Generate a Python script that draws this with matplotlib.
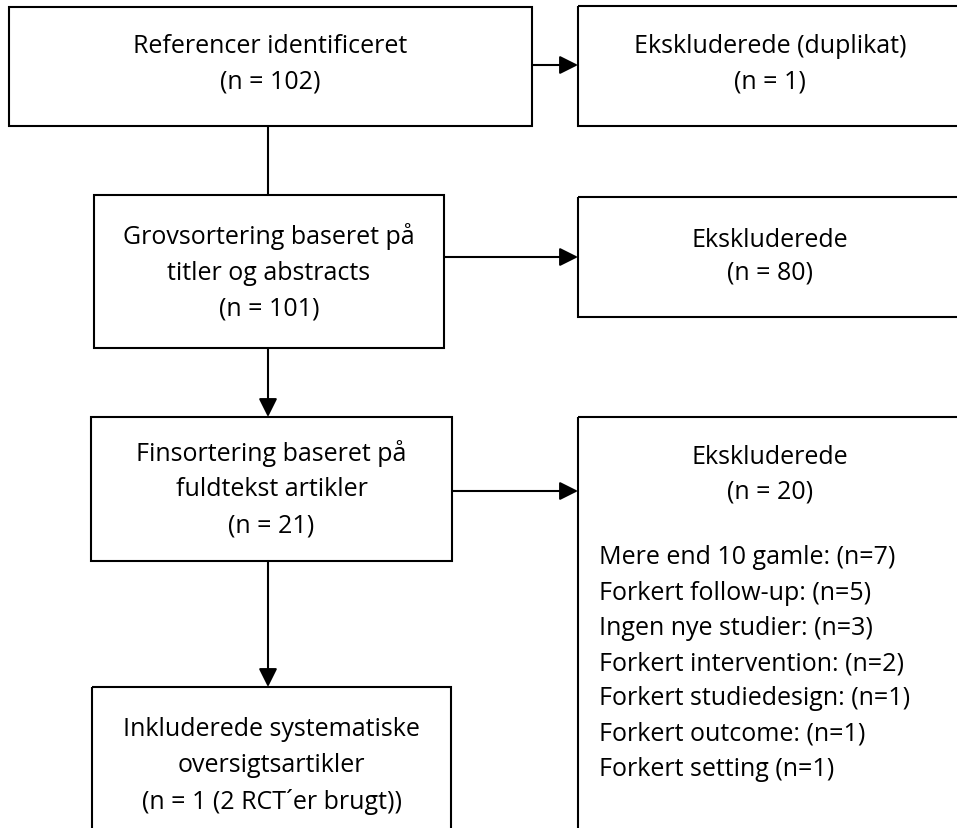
#Flowchart over litteratursøgning (systematiske oversigtsartikler)
import matplotlib.pyplot as plt
from matplotlib.patches import Rectangle, FancyArrowPatch

#Data for flowchartet
trin = [
    "Referencer identificeret",
    "Grovsortering baseret på\ntitler og abstracts",
    "Finsortering baseret på\nfuldtekst artikler",
    "Inkluderede systematiske\noversigtsartikler",
]
trin_n = ["102", "101", "21", "1 (2 RCT´er brugt)"]

eksklusion = ["Ekskluderede (duplikat)", "Ekskluderede", "Ekskluderede"]
eksklusion_n = [1, 80, 20]

aarsager = [
    "Mere end 10 gamle:",
    "Forkert follow-up:",
    "Ingen nye studier:",
    "Forkert intervention:",
    "Forkert studiedesign:",
    "Forkert outcome:",
    "Forkert setting",
]
aarsager_n = [7, 5, 3, 2, 1, 1, 1]

plt.rcParams["font.family"] = ["Open Sans", "DejaVu Sans"]
fs = 18
lw = 1.5

fig = plt.figure(figsize=(9.57, 8.29), dpi=100)
ax = fig.add_axes([0, 0, 1, 1])
ax.set_xlim(0, 957)
ax.set_ylim(829, 0)
ax.axis("off")

#bokse i venstre kolonne: (x0, y0, x1, y1) i pixel
venstre = [(9, 8, 532, 127), (94, 196, 444, 349), (91, 418, 452, 562), (92, 688, 451, 900)]
#midten af teksten i hver boks
venstre_y = [64, 272, 489, 766]
#bokse i hoejre kolonne (skaaret af ved billedkanten)
hoejre = [(578, 7, 962, 127), (578, 198, 962, 318), (578, 418, 962, 900)]

def boks(x0, y0, x1, y1):
    r = Rectangle((x0, y0), x1 - x0, y1 - y0, fill=False, edgecolor="black", linewidth=lw)
    ax.add_patch(r)
    return r

for i, (x0, y0, x1, y1) in enumerate(venstre):
    boks(x0, y0, x1, y1)
    tekst = trin[i] + f"\n(n = {trin_n[i]})"
    t = ax.text((x0 + x1) / 2, venstre_y[i], tekst, ha="center", va="center",
                fontsize=fs, linespacing=1.56)
    if i == 3:
        clip = Rectangle((x0, y0), x1 - x0, 813 - y0, transform=ax.transData)
        t.set_clip_path(clip)

tekst_y = [(46, 82), (240, 273), (457, 492)]
for i, (x0, y0, x1, y1) in enumerate(hoejre):
    boks(x0, y0, x1, y1)
    xc = (x0 + x1) / 2
    ax.text(xc, tekst_y[i][0], eksklusion[i], ha="center", va="center", fontsize=fs)
    ax.text(xc, tekst_y[i][1], f"(n = {eksklusion_n[i]})", ha="center", va="center", fontsize=fs)

#liste med eksklusionsaarsager
for j, (a, n) in enumerate(zip(aarsager, aarsager_n)):
    ax.text(599, 558 + j * 35.2, f"{a} (n={n})", ha="left", va="center", fontsize=fs)

def pil(p0, p1, hoved=True):
    stil = "-|>,head_length=0.8,head_width=0.4" if hoved else "-"
    a = FancyArrowPatch(p0, p1, arrowstyle=stil, mutation_scale=14, color="black",
                        linewidth=lw, shrinkA=0, shrinkB=0)
    ax.add_patch(a)

#pile mellem boksene
pil((268, 127), (268, 196), hoved=False)
pil((268, 349), (268, 418))
pil((268, 562), (268, 688))
pil((532, 66), (578, 66))
pil((444, 258), (578, 258))
pil((452, 492), (578, 492))

plt.savefig("out.png", dpi=100)
